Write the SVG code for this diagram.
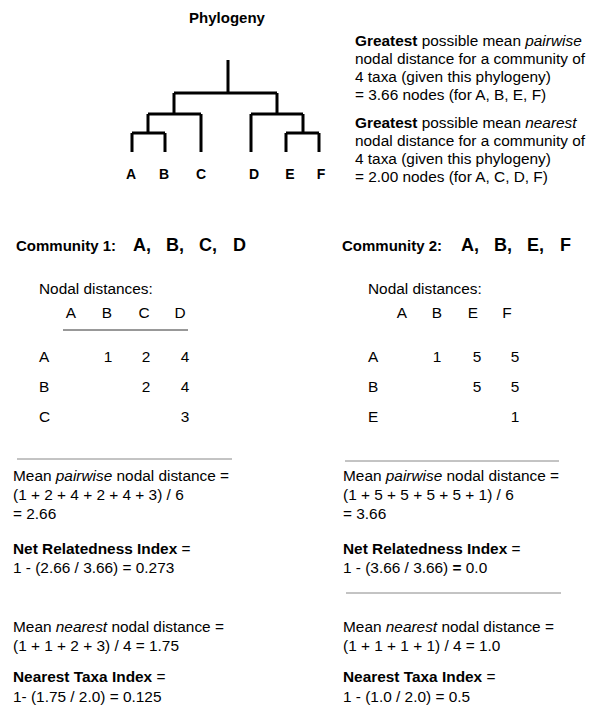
<svg xmlns="http://www.w3.org/2000/svg" width="589" height="715" viewBox="0 0 589 715">
<style>
text{font-family:"Liberation Sans",Arial,sans-serif;fill:#000;font-size:15.4px}
.b{font-weight:bold}
.h{font-weight:bold;font-size:15px}
.t{font-weight:bold;font-size:14px;text-anchor:middle}
.big{font-weight:bold;font-size:18px}
.m{text-anchor:middle}
.tree{stroke:#000;stroke-width:3;fill:none;stroke-linecap:butt}
.sep{stroke:#888;stroke-width:1}
</style>
<rect width="589" height="715" fill="#fff"/>
<g id="phylogeny">
<text x="227" y="23" class="h" text-anchor="middle">Phylogeny</text>
<path class="tree" d="M228 60V93M174 93H277M174 93V114M148 114H201M148 114V133M132 133H165M132 133V152M165 133V152M201 114V152M277 93V114M251 114H303M251 114V152M303 114V133M286 133H319M286 133V152M319 133V152"/>
<text x="131" y="179" class="t">A</text>
<text x="164" y="179" class="t">B</text>
<text x="201" y="179" class="t">C</text>
<text x="254" y="179" class="t">D</text>
<text x="290" y="179" class="t">E</text>
<text x="321" y="179" class="t">F</text>
</g>
<g id="greatest">
<text x="355" y="46"><tspan class="b">Greatest</tspan> possible mean <tspan font-style="italic">pairwise</tspan></text>
<text x="355" y="64">nodal distance for a community of</text>
<text x="355" y="82">4 taxa (given this phylogeny)</text>
<text x="355" y="100">= 3.66 nodes (for A, B, E, F)</text>
<text x="355" y="128"><tspan class="b">Greatest</tspan> possible mean <tspan font-style="italic">nearest</tspan></text>
<text x="355" y="146">nodal distance for a community of</text>
<text x="355" y="164">4 taxa (given this phylogeny)</text>
<text x="355" y="182">= 2.00 nodes (for A, C, D, F)</text>
</g>
<g id="community1">
<text x="16" y="251" class="h">Community 1:</text>
<text x="133" y="251" class="big">A,</text>
<text x="166" y="251" class="big">B,</text>
<text x="199" y="251" class="big">C,</text>
<text x="233" y="251" class="big">D</text>
<text x="39" y="294">Nodal distances:</text>
<text x="71" y="318" class="m">A</text>
<text x="107" y="318" class="m">B</text>
<text x="144" y="318" class="m">C</text>
<text x="180" y="318" class="m">D</text>
<line x1="63" y1="330" x2="188" y2="330" stroke="#333" stroke-width="1"/>
<text x="39" y="362">A</text>
<text x="108" y="362" class="m">1</text>
<text x="146" y="362" class="m">2</text>
<text x="185" y="362" class="m">4</text>
<text x="39" y="392">B</text>
<text x="146" y="392" class="m">2</text>
<text x="185" y="392" class="m">4</text>
<text x="39" y="422">C</text>
<text x="185" y="422" class="m">3</text>
</g>
<g id="community2">
<text x="342" y="251" class="h">Community 2:</text>
<text x="461" y="251" class="big">A,</text>
<text x="494" y="251" class="big">B,</text>
<text x="527" y="251" class="big">E,</text>
<text x="560" y="251" class="big">F</text>
<text x="368" y="294">Nodal distances:</text>
<text x="402" y="318" class="m">A</text>
<text x="437" y="318" class="m">B</text>
<text x="473" y="318" class="m">E</text>
<text x="507" y="318" class="m">F</text>
<text x="368" y="362">A</text>
<text x="437" y="362" class="m">1</text>
<text x="477" y="362" class="m">5</text>
<text x="515" y="362" class="m">5</text>
<text x="368" y="392">B</text>
<text x="477" y="392" class="m">5</text>
<text x="515" y="392" class="m">5</text>
<text x="368" y="422">E</text>
<text x="515" y="422" class="m">1</text>
</g>
<g id="calc1">
<line class="sep" x1="17" y1="459" x2="232" y2="459"/>
<text x="13" y="481">Mean <tspan font-style="italic">pairwise</tspan> nodal distance =</text>
<text x="13" y="500">(1 + 2 + 4 + 2 + 4 + 3) / 6</text>
<text x="13" y="519">= 2.66</text>
<text x="13" y="554"><tspan class="b">Net Relatedness Index</tspan> =</text>
<text x="13" y="573">1 - (2.66 / 3.66) = 0.273</text>
<text x="13" y="632">Mean <tspan font-style="italic">nearest</tspan> nodal distance =</text>
<text x="13" y="651">(1 + 1 + 2 + 3) / 4 = 1.75</text>
<text x="13" y="682"><tspan class="b">Nearest Taxa Index</tspan> =</text>
<text x="13" y="702">1- (1.75 / 2.0) = 0.125</text>
</g>
<g id="calc2">
<line class="sep" x1="345" y1="461" x2="559" y2="461"/>
<text x="343" y="481">Mean <tspan font-style="italic">pairwise</tspan> nodal distance =</text>
<text x="343" y="500">(1 + 5 + 5 + 5 + 5 + 1) / 6</text>
<text x="343" y="519">= 3.66</text>
<text x="343" y="554"><tspan class="b">Net Relatedness Index</tspan> =</text>
<text x="343" y="573">1 - (3.66 / 3.66) <tspan class="b">=</tspan> 0.0</text>
<line class="sep" x1="346" y1="593" x2="561" y2="593"/>
<text x="343" y="632">Mean <tspan font-style="italic">nearest</tspan> nodal distance =</text>
<text x="343" y="651">(1 + 1 + 1 + 1) / 4 = 1.0</text>
<text x="343" y="682"><tspan class="b">Nearest Taxa Index</tspan> =</text>
<text x="343" y="702">1 - (1.0 / 2.0) = 0.5</text>
</g>
</svg>
